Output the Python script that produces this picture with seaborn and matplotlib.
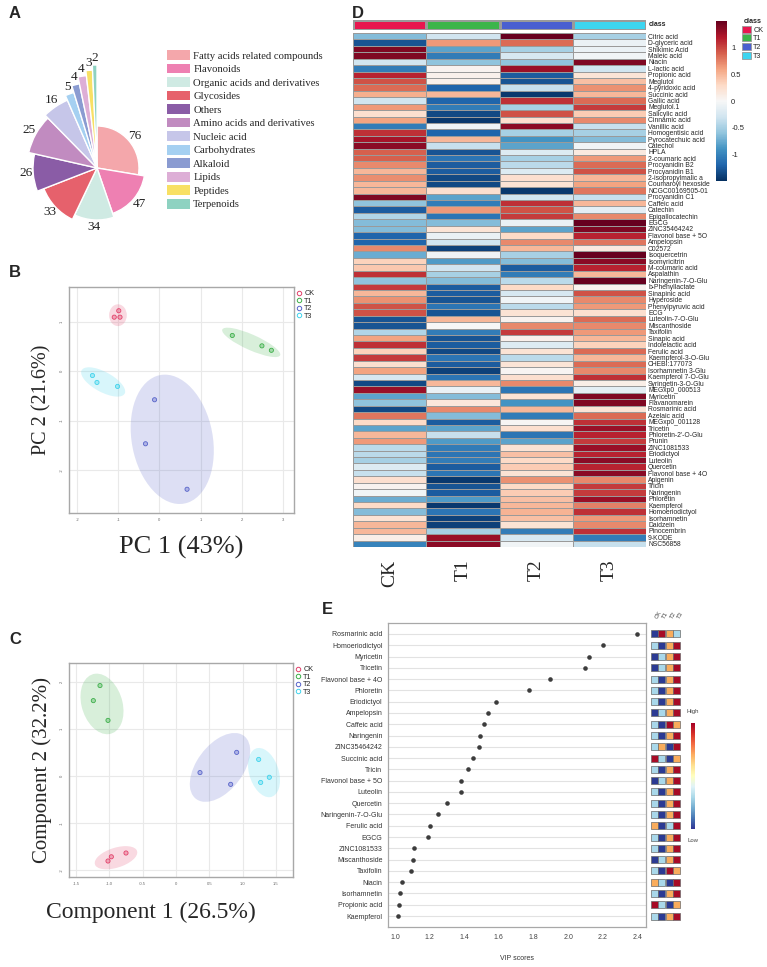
import numpy as np
import pandas as pd
import matplotlib
matplotlib.use("Agg")
import matplotlib.pyplot as plt
import seaborn as sns
from matplotlib.patches import Ellipse, Patch
from matplotlib.lines import Line2D
from matplotlib.colors import ListedColormap
import matplotlib.cm as cm
import matplotlib.colors as mcolors

# ---------------- data ----------------
# Panel A
pie_classes = ["Fatty acids related compounds", "Flavonoids", "Organic acids and derivatives",
               "Glycosides", "Others", "Amino acids and derivatives", "Nucleic acid",
               "Carbohydrates", "Alkaloid", "Lipids", "Peptides", "Terpenoids"]
pie_counts = [76, 47, 34, 33, 26, 25, 16, 5, 4, 4, 3, 2]
pie_colors = ["#F4A7AB", "#EE80B2", "#CFEAE3", "#E6616C", "#8A5CA6", "#C18BC0",
              "#C6C6E9", "#A5D0F1", "#8A9BD1", "#DDAED6", "#F8E064", "#8ED2C1"]

groups = ["CK", "T1", "T2", "T3"]
group_colors = ["#E2416A", "#3DAF4A", "#5763C9", "#3FD3EC"]

# Panel B (PCA)
pca_group = ["CK"] * 3 + ["T1"] * 3 + ["T2"] * 3 + ["T3"] * 3
pca_x = [-0.99, -1.10, -0.96, 1.77, 2.49, 2.72, -0.12, -0.34, 0.67, -1.63, -1.52, -1.02]
pca_y = [1.22, 1.09, 1.09, 0.72, 0.51, 0.42, -0.58, -1.47, -2.39, -0.09, -0.23, -0.31]
pca_ell_cx = [-1.01, 2.23, 0.31, -1.37]
pca_ell_cy = [1.13, 0.58, -1.38, -0.22]
pca_ell_w = [0.43, 1.50, 2.67, 1.15]
pca_ell_h = [0.44, 0.32, 1.95, 0.42]
pca_ell_ang = [0, -20, -73, -23]

# Panel C (PLS-DA)
pls_group = ["CK"] * 3 + ["T1"] * 3 + ["T2"] * 3 + ["T3"] * 3
pls_x = [-1.02, -0.97, -0.75, -1.14, -1.24, -1.02, 0.36, 0.91, 0.82, 1.24, 1.27, 1.40]
pls_y = [-1.81, -1.72, -1.64, 1.92, 1.60, 1.18, 0.07, 0.50, -0.18, 0.35, -0.14, -0.03]
pls_ell_cx = [-0.90, -1.11, 0.66, 1.32]
pls_ell_cy = [-1.74, 1.53, 0.18, 0.07]
pls_ell_w = [0.70, 1.30, 1.55, 1.06]
pls_ell_h = [0.40, 0.62, 0.75, 0.45]
pls_ell_ang = [30, -81, 68, -80]

# Panel D (heatmap)
hm_names = ["Citric acid", "D-glyceric acid", "Shikimic Acid", "Maleic acid", "Niacin",
            "L-lactic acid", "Propionic acid", "Meglutol", "4-pyridoxic acid", "Succinic acid",
            "Gallic acid", "Meglutol.1", "Salicylic acid", "Cinnamic acid", "Vanillic acid",
            "Homogentisic acid", "Pyrocatechuic acid", "Catechol", "HPLA", "2-coumaric acid",
            "Procyanidin B2", "Procyanidin B1", "2-isopropylmalic a", "Coumaroyl hexoside",
            "NCGC00169505-01", "Procyanidin C1", "Caffeic acid", "Catechin", "Epigallocatechin",
            "EGCG", "ZINC35464242", "Flavonol base + 5O", "Ampelopsin", "C02572",
            "Isoquercetrin", "Isomyricitrin", "M-coumaric acid", "Aspalathin",
            "Naringenin-7-O-Glu", "b-Phenyllactate", "Sinapinic acid", "Hyperoside",
            "Phenylpyruvic acid", "ECG", "Luteolin-7-O-Glu", "Miscanthoside", "Taxifolin",
            "Sinapic acid", "Indolelactic acid", "Ferulic acid", "Kaempferol-3-O-Glu",
            "CHEBI:177073", "Isorhamnetin 3-Glu", "Kaempferol 7-O-Glu", "Syringetin-3-O-Glu",
            "MEGxp0_000513", "Myricetin", "Flavanomarein", "Rosmarinic acid", "Azelaic acid",
            "MEGxp0_001128", "Tricetin", "Phloretin-2'-O-Glu", "Prunin", "ZINC1081533",
            "Eriodictyol", "Luteolin", "Quercetin", "Flavonol base + 4O", "Apigenin", "Tricin",
            "Naringenin", "Phloretin", "Kaempferol", "Homoeriodictyol", "Isorhamnetin",
            "Daidzein", "Pinocembrin", "9-KODE", "NSC56858"]
hm_ck = [-0.65, -1.3, 1.4, 1.4, -0.3, -1.05, 1.15, 0.95, 0.85, 0.55,
         -0.3, 0.65, 0.25, 0.6, -1.05, 1.1, 1.25, 1.35, 0.9, 0.9,
         0.72, 0.5, 0.7, 0.5, 0.5, 1.4, -0.6, -1.25, -0.45, -0.65,
         -0.65, -1.2, -1.2, 0.72, -0.75, 0.35, 0.4, 1.1, -0.6, 1.05,
         0.5, 0.68, 0.95, 0.95, -1.3, -1.3, -0.45, 0.6, 1.1, 0.35,
         1.05, 0.25, 0.6, -0.25, -1.35, 1.3, -0.8, -0.6, -1.35, 0.8,
         0.3, -0.8, 0.5, 0.65, -0.4, -0.4, -0.5, -0.2, -0.35, 0.25,
         0.05, -0.05, -0.75, 0.3, -0.65, 0.22, 0.5, 0.5, 0.1, -1.0]
hm_t1 = [-0.3, 0.65, -0.8, -1.05, -0.6, 0.05, 0.08, 0.08, -1.2, 0.5,
         -1.2, -1.05, -1.35, -1.45, -0.05, -1.2, 0.5, -0.35, -1.3, -1.1,
         -1.25, -1.25, -1.35, -1.35, 0.25, -0.8, -1.05, 0.65, -1.1, -0.65,
         0.2, -0.1, -0.3, -1.4, -0.05, -0.85, -0.3, -0.5, -0.65, -1.25,
         -1.25, -1.3, -1.1, -1.3, 0.5, 0.0, -1.05, -1.3, -1.25, -1.35,
         -1.1, -1.25, -1.4, -1.1, 0.5, -0.1, -0.65, 0.18, 0.72, -0.65,
         -1.25, -0.8, -0.35, -0.85, -1.05, -1.1, -1.05, -1.25, -1.1, -1.45,
         -1.3, -1.25, -0.85, -1.45, -1.1, -1.4, -1.4, -0.5, 1.3, 1.35]
hm_t2 = [1.5, 0.85, -0.5, -0.25, -0.6, 1.3, -1.25, -1.3, -0.35, -1.45,
         1.1, -0.5, 0.95, 0.25, 1.35, -0.5, -0.9, -0.8, -0.2, -0.5,
         -0.4, -0.2, 0.25, 0.22, -1.45, -0.3, 1.1, 0.95, 1.05, -0.1,
         -0.8, 0.3, 0.72, 0.5, -0.5, -0.65, -1.25, -1.05, -0.4, 0.3,
         -0.25, -0.05, -0.4, 0.22, 0.05, 0.72, 1.05, 0.08, -0.2, 0.22,
         -0.4, 0.2, 0.03, 0.25, 0.72, -1.1, 0.22, -0.9, 0.5, -1.05,
         0.02, 0.25, -1.1, -0.8, 0.22, 0.45, 0.3, 0.38, 0.22, 0.68,
         0.3, 0.38, 0.45, 0.5, 0.52, 0.45, 0.22, -1.05, -0.25, -0.05]
hm_t3 = [-0.5, -0.1, -0.1, -0.05, 1.4, -0.3, 0.2, 0.45, 0.68, 0.5,
         0.85, 1.05, 0.38, 0.72, -0.35, -0.5, -0.65, -0.05, 0.15, 0.65,
         0.85, 0.95, 0.5, 0.6, 0.8, -0.35, 0.5, -0.15, 0.72, 1.5,
         1.4, 1.15, 0.8, 0.15, 1.5, 1.35, 1.15, 0.5, 1.5, 0.05,
         0.95, 0.72, 0.65, 0.25, 0.85, 0.72, 0.65, 0.5, 0.35, 0.85,
         0.5, 0.85, 0.72, 1.1, 0.1, -0.15, 1.4, 1.4, 0.2, 0.85,
         1.1, 1.3, 1.15, 1.05, 1.3, 1.15, 1.35, 1.15, 1.35, 0.72,
         1.05, 1.05, 1.3, 0.75, 1.1, 0.65, 0.72, 1.1, -1.05, -0.35]
class_colors = ["#E8174F", "#3CB54A", "#4A5FD0", "#3DD5F0"]

# Panel E (VIP)
vip_names = ["Rosmarinic acid", "Homoeriodictyol", "Myricetin", "Tricetin", "Flavonol base + 4O",
             "Phloretin", "Eriodictyol", "Ampelopsin", "Caffeic acid", "Naringenin",
             "ZINC35464242", "Succinic acid", "Tricin", "Flavonol base + 5O", "Luteolin",
             "Quercetin", "Naringenin-7-O-Glu", "Ferulic acid", "EGCG", "ZINC1081533",
             "Miscanthoside", "Taxifolin", "Niacin", "Isorhamnetin", "Propionic acid", "Kaempferol"]
vip_scores = [2.40, 2.20, 2.12, 2.095, 1.894, 1.772, 1.586, 1.538, 1.517, 1.491,
              1.484, 1.451, 1.422, 1.383, 1.381, 1.298, 1.250, 1.201, 1.190, 1.108,
              1.104, 1.091, 1.039, 1.031, 1.021, 1.017]
# relative level (1 = low ... 4 = high) per group
vip_rank_ck = [1, 2, 1, 1, 2, 2, 2, 1, 2, 2, 2, 4, 2, 1, 2, 2, 2, 3, 2, 2, 1, 2, 3, 2, 4, 2]
vip_rank_t1 = [4, 1, 2, 2, 1, 1, 1, 2, 1, 1, 3, 2, 1, 2, 1, 1, 1, 1, 1, 1, 2, 1, 2, 1, 2, 1]
vip_rank_t2 = [3, 3, 3, 3, 3, 3, 3, 3, 4, 3, 1, 1, 3, 3, 3, 3, 3, 2, 3, 3, 3, 4, 1, 3, 1, 3]
vip_rank_t3 = [2, 4, 4, 4, 4, 4, 4, 4, 3, 4, 4, 3, 4, 4, 4, 4, 4, 4, 4, 4, 4, 3, 4, 4, 3, 4]
rank_colors = {1: "#2B3A93", 2: "#A9D8EA", 3: "#F9AC5C", 4: "#A70B26"}

# ---------------- style ----------------
sns.set_style("white")
plt.rcParams["font.family"] = ["Liberation Sans", "DejaVu Sans"]
SERIF = ["Liberation Serif", "DejaVu Serif"]

W, H = 767, 967
fig = plt.figure(figsize=(W / 100, H / 100), dpi=100)


def ax_px(l, t, r, b):
    return fig.add_axes([l / W, 1 - b / H, (r - l) / W, (b - t) / H])


def letter(x, y, s):
    fig.text(x / W, 1 - y / H, s, fontsize=12, fontweight="bold", ha="left", va="center")


# ---------------- Panel A ----------------
letter(9, 13, "A")
axA = ax_px(-23, 48, 217, 288)
wedges, _ = axA.pie(pie_counts, colors=pie_colors, startangle=90, counterclock=False,
                    radius=1.0, wedgeprops=dict(edgecolor="white", linewidth=1.0))
radii = [0.42, 0.48, 0.52, 0.57, 0.64, 0.70, 0.74, 0.79, 0.86, 0.93, 0.98, 1.03]
for w, r, v in zip(wedges, radii, pie_counts):
    w.set_radius(r)
    ang = np.deg2rad((w.theta1 + w.theta2) / 2)
    rl = r + 0.075
    axA.text(rl * np.cos(ang), rl * np.sin(ang), str(v), ha="center", va="center",
             fontsize=9.5, family=SERIF, color="#222222")
axA.set_xlim(-1.2, 1.2)
axA.set_ylim(-1.2, 1.2)
axA.set_aspect("equal")
axA.axis("off")
fig.legend(handles=[Patch(facecolor=c, edgecolor="none") for c in pie_colors], labels=pie_classes,
           loc="upper left", bbox_to_anchor=(167 / W, 1 - 50 / H), frameon=False,
           prop={"family": SERIF, "size": 7.7}, handlelength=2.15, handleheight=1.03,
           handletextpad=0.3, labelspacing=0.28, borderpad=0, borderaxespad=0)


# ---------------- scatter panel helper ----------------
def score_panel(ax, gx, gy, gg, ecx, ecy, ew, eh, ea, xticks, xtl, yticks, ytl, xlim, ylim):
    for i, g in enumerate(groups):
        ax.add_patch(Ellipse((ecx[i], ecy[i]), ew[i], eh[i], angle=ea[i],
                             facecolor=group_colors[i], alpha=0.2, edgecolor="none", zorder=1))
    df = pd.DataFrame({"x": gx, "y": gy, "g": gg})
    sns.scatterplot(data=df, x="x", y="y", hue="g", palette=dict(zip(groups, group_colors)),
                    s=9, legend=False, ax=ax, zorder=3)
    coll = ax.collections[-1]
    fc = coll.get_facecolors()
    coll.set_edgecolors(fc)
    fc2 = fc.copy()
    fc2[:, 3] = 0.35
    coll.set_facecolors(fc2)
    coll.set_linewidths(0.6)
    ax.set_xlim(*xlim)
    ax.set_ylim(*ylim)
    ax.set_xticks(xticks)
    ax.set_xticklabels(xtl)
    ax.set_yticks(yticks)
    ax.set_yticklabels(ytl, rotation=90, va="center")
    ax.tick_params(labelsize=3, colors="#666666", length=1.5, width=0.4, pad=2)
    ax.grid(True, color="#E9E9E9", lw=0.8)
    ax.set_axisbelow(True)
    for s in ax.spines.values():
        s.set_color("#A8A8A8")
        s.set_linewidth(1.0)
    ax.legend(handles=[Line2D([], [], marker="o", ls="none", mfc="none", mec=c, mew=0.7, ms=3.2)
                       for c in group_colors], labels=groups, loc="upper left",
              bbox_to_anchor=(1.01, 0.985), frameon=False, fontsize=5.2, handlelength=0.7,
              handletextpad=0.4, labelspacing=0.05, borderpad=0, borderaxespad=0)


# ---------------- Panel B ----------------
letter(9, 273, "B")
axB = ax_px(69, 287, 294, 513)
score_panel(axB, pca_x, pca_y, pca_group, pca_ell_cx, pca_ell_cy, pca_ell_w, pca_ell_h, pca_ell_ang,
            [-2, -1, 0, 1, 2, 3], ["-2", "-1", "0", "1", "2", "3"],
            [1, 0, -1, -2], ["1", "0", "-1", "-2"], (-2.2, 3.27), (-2.87, 1.7))
axB.set_xlabel("PC 1 (43%)", fontsize=19, family=SERIF, va="center")
axB.xaxis.set_label_coords(0.5, -34 / 226)
axB.set_ylabel("PC 2 (21.6%)", fontsize=14.5, family=SERIF, va="center")
axB.yaxis.set_label_coords(-27 / 225, 0.5)

# ---------------- Panel C ----------------
letter(9, 639, "C")
axC = ax_px(69, 663, 293, 877)
score_panel(axC, pls_x, pls_y, pls_group, pls_ell_cx, pls_ell_cy, pls_ell_w, pls_ell_h, pls_ell_ang,
            [-1.5, -1.0, -0.5, 0, 0.5, 1.0, 1.5], ["-1.5", "-1.0", "-0.5", "0", "0.5", "1.0", "1.5"],
            [2, 1, 0, -1, -2], ["2", "1", "0", "-1", "-2"], (-1.605, 1.755), (-2.15, 2.4))
axC.set_xlabel("Component 1 (26.5%)", fontsize=17, family=SERIF, va="center")
axC.xaxis.set_label_coords((151 - 69) / 224, -35 / 214)
axC.set_ylabel("Component 2 (32.2%)", fontsize=15, family=SERIF, va="center")
axC.yaxis.set_label_coords(-27 / 224, 0.5)

# ---------------- Panel D ----------------
fig.text(352 / W, 1 - 13 / H, "D", fontsize=12, fontweight="bold", ha="left", va="center")
axCls = ax_px(353, 20, 646, 30)
sns.heatmap(np.array([[0, 1, 2, 3]]), cmap=ListedColormap(class_colors), cbar=False,
            linewidths=0.8, linecolor="#9A9A9A", xticklabels=False, yticklabels=False, ax=axCls)
axCls.text(1.0 + 3 / 293, 0.5, "class", transform=axCls.transAxes, fontsize=5, fontweight="bold",
           ha="left", va="center")

hm_df = pd.DataFrame({"CK": hm_ck, "T1": hm_t1, "T2": hm_t2, "T3": hm_t3}, index=hm_names)
axH = ax_px(353, 33, 646, 547)
axCb = ax_px(716, 21, 727, 181)
sns.heatmap(hm_df, cmap="RdBu_r", vmin=-1.5, vmax=1.5, linewidths=0.6, linecolor="#9A9A9A",
            xticklabels=True, yticklabels=True, ax=axH, cbar_ax=axCb,
            cbar_kws={"ticks": [1, 0.5, 0, -0.5, -1]})
axH.yaxis.tick_right()
axH.tick_params(axis="y", length=0, pad=1.5, labelsize=4.9, labelrotation=0)
axH.tick_params(axis="x", length=0, pad=9, labelsize=14, labelrotation=90)
for t in axH.get_xticklabels():
    t.set_family(SERIF)
cb = axH.collections[0].colorbar
cb.outline.set_visible(False)
cb.set_ticklabels(["1", "0.5", "0", "-0.5", "-1"])
axCb.tick_params(labelsize=5.5, length=0, pad=3)
fig.legend(handles=[Patch(facecolor=c, edgecolor="#999999", linewidth=0.6) for c in class_colors],
           labels=groups, title="class", loc="upper left", bbox_to_anchor=(742 / W, 1 - 18 / H),
           frameon=False, fontsize=5.2, title_fontproperties={"weight": "bold", "size": 5.2},
           handlelength=1.25, handleheight=1.1, handletextpad=0.3, labelspacing=0.1,
           borderpad=0, borderaxespad=0)

# ---------------- Panel E ----------------
letter(322, 610, "E")
axE = ax_px(388, 623, 646, 927)
vdf = pd.DataFrame({"name": vip_names, "vip": vip_scores})
sns.stripplot(data=vdf, x="vip", y="name", jitter=False, color="#3C3C3C", size=3.3, ax=axE, zorder=3)
axE.set_xlim(0.96, 2.45)
axE.set_ylim(len(vip_names) - 1 + 0.97, -0.97)
axE.set_xticks([1.0, 1.2, 1.4, 1.6, 1.8, 2.0, 2.2, 2.4])
axE.set_xticklabels(["1.0", "1.2", "1.4", "1.6", "1.8", "2.0", "2.2", "2.4"])
axE.tick_params(axis="x", labelsize=5, colors="#444444", length=2, width=0.5, pad=3)
axE.tick_params(axis="y", labelsize=5, colors="#333333", length=0, pad=4)
axE.grid(axis="y", color="#E2E2E2", lw=0.8)
axE.grid(axis="x", visible=False)
axE.set_axisbelow(True)
for s in axE.spines.values():
    s.set_color("#A8A8A8")
    s.set_linewidth(0.9)
axE.set_ylabel("")
axE.set_xlabel("VIP scores", fontsize=5, color="#333333", labelpad=10)

axS = ax_px(648, 623, 684, 927)
rows = []
for gi, ranks in enumerate([vip_rank_ck, vip_rank_t1, vip_rank_t2, vip_rank_t3]):
    for ri, rk in enumerate(ranks):
        rows.append({"col": gi, "row": ri, "rank": rk})
sdf = pd.DataFrame(rows)
sns.scatterplot(data=sdf, x="col", y="row", hue="rank", palette=rank_colors, marker="s", s=26,
                edgecolor="#6A6A6A", linewidth=0.5, legend=False, ax=axS)
axS.set_xlim(-0.89, -0.89 + 36 / 7.3)
axS.set_ylim(len(vip_names) - 1 + 0.97, -0.97)
axS.axis("off")
for gi, g in enumerate(groups):
    axS.text(gi, -1.25, g, rotation=60, fontsize=4.3, color="#444444", ha="left", va="bottom")

axEc = ax_px(690.5, 723, 695, 829)
fig.colorbar(cm.ScalarMappable(norm=mcolors.Normalize(0, 1), cmap="RdYlBu_r"), cax=axEc)
axEc.set_yticks([])
axEc.set_frame_on(False)
fig.text(693 / W, 1 - 712 / H, "High", fontsize=4.3, ha="center", va="center", color="#444444")
fig.text(693 / W, 1 - 840 / H, "Low", fontsize=4.3, ha="center", va="center", color="#444444")

fig.savefig("out.png", dpi=100, facecolor="white")
